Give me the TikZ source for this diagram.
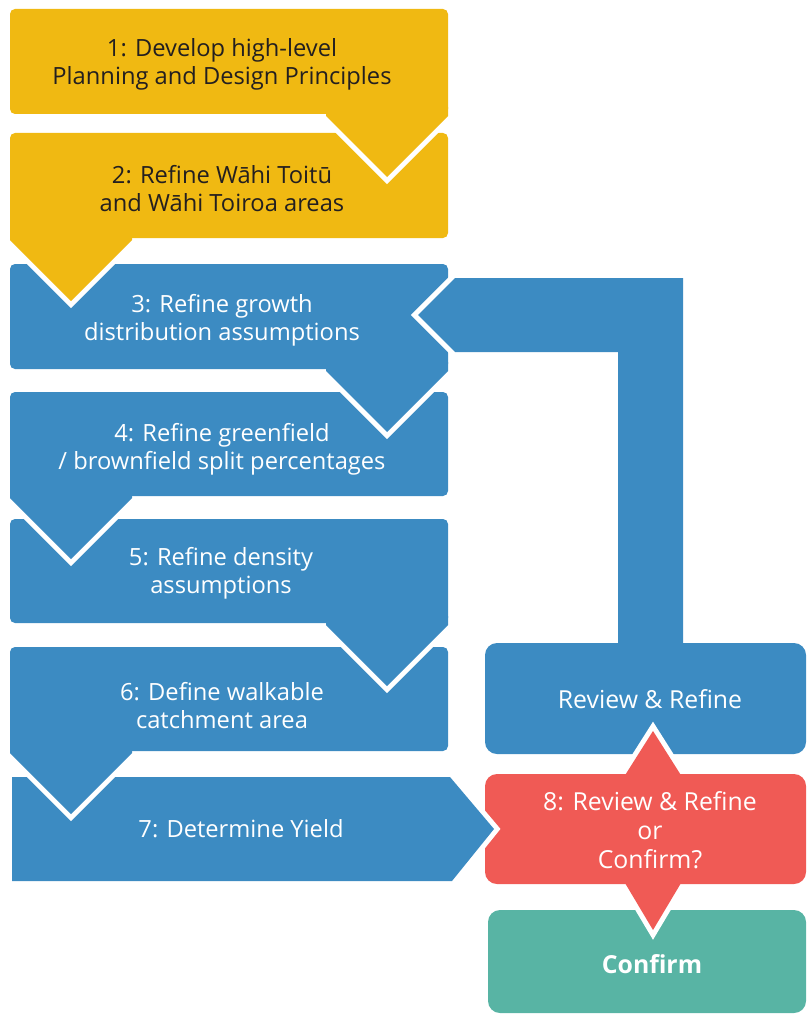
\documentclass[tikz,border=0pt]{standalone}
\usepackage{fontspec}
\setmainfont{Open Sans}
\usepackage{tikz}

\definecolor{stepyellow}{HTML}{F0B912}
\definecolor{stepblue}{HTML}{3C8BC2}
\definecolor{stepred}{HTML}{F05A55}
\definecolor{stepgreen}{HTML}{58B4A4}
\definecolor{darktext}{HTML}{231F20}

\tikzset{
  gapline/.style={draw=white, line width=10pt, line join=miter},
  steptext/.style={align=center, text=white, font=\fontsize{23.7}{28}\selectfont},
  sidetext/.style={align=center, text=white, font=\fontsize{24.8}{29}\selectfont},
}

% body of a step, top y, bottom y, colour
\newcommand{\stepbody}[3]{\fill[#3, rounded corners=5] (10,#1) rectangle (448,#2);}
% pointer under a step: tip x, tip y, colour
\newcommand{\steppointer}[3]{%
  \draw[gapline] ({#1-61},{#2-61}) -- (#1,#2) -- ({#1+61},{#2-61});
  \fill[#3] ({#1-61},{#2-70}) -- ({#1+61},{#2-70}) -- ({#1+61},{#2-61}) -- (#1,#2) -- ({#1-61},{#2-61}) -- cycle;}

\begin{document}
\begin{tikzpicture}[x=1pt, y=-1pt]
    \useasboundingbox (0,0) rectangle (807,1014);

    % right hand column
    \fill[stepgreen, rounded corners=12] (488,910) rectangle (806,1013);
    \fill[stepblue, rounded corners=12] (485,643) rectangle (806,754);
    \draw[gapline] (622,780) -- (653,731) -- (684,780);
    \draw[gapline] (622,878) -- (653,930) -- (684,878);
    \fill[stepred, rounded corners=12] (485,774) rectangle (806,884);
    \fill[stepred] (622,780) -- (653,731) -- (684,780) -- cycle;
    \fill[stepred] (622,878) -- (653,930) -- (684,878) -- cycle;

    % step 7 points into the decision
    \draw[gapline] (450,777) -- (494,829) -- (452,881);
    \fill[stepblue] (12,777) -- (450,777) -- (494,829) -- (452,881) -- (12,881) -- cycle;

    % steps 6 to 3, drawn upwards so each pointer lies on the step below
    \stepbody{647}{751}{stepblue}
    \steppointer{71}{814}{stepblue}
    \stepbody{519}{623}{stepblue}
    \steppointer{387}{686}{stepblue}
    \stepbody{392}{496}{stepblue}
    \steppointer{71}{559}{stepblue}
    \stepbody{264}{369}{stepblue}
    \steppointer{387}{432}{stepblue}

    % feedback loop back to step 3
    \draw[gapline] (455,278) -- (418,315) -- (455,352);
    \fill[stepblue] (455,278) -- (683,278) -- (683,660) -- (618,660) -- (618,352) -- (455,352) -- (418,315) -- cycle;

    % steps 2 and 1
    \stepbody{133}{238}{stepyellow}
    \steppointer{71}{301}{stepyellow}
    \stepbody{9}{114}{stepyellow}
    \steppointer{387}{177}{stepyellow}

    \node[steptext, text=darktext] (s1) at (222,64) {1: Develop high-level\\Planning and Design Principles};
    \node[steptext, text=darktext] (s2) at (222,189) {2: Refine Wāhi Toitū\\and Wāhi Toiroa areas};
    \node[steptext] (s3) at (222,320) {3: Refine growth\\distribution assumptions};
    \node[steptext] (s4) at (222,449) {4: Refine greenfield\\/ brownfield split percentages};
    \node[steptext] (s5) at (221,573) {5: Refine density\\assumptions};
    \node[steptext] (s6) at (222,706) {6: Define walkable\\catchment area};
    \node[steptext] (s7) at (241,829) {7: Determine Yield};
    \node[sidetext] (review) at (650,699) {Review \& Refine};
    \node[sidetext] (s8) at (650,830) {8: Review \& Refine\\or\\Confirm?};
    \node[sidetext, font=\fontsize{24.8}{29}\selectfont\bfseries] (confirm) at (652,964) {Confirm};
\end{tikzpicture}
\end{document}
